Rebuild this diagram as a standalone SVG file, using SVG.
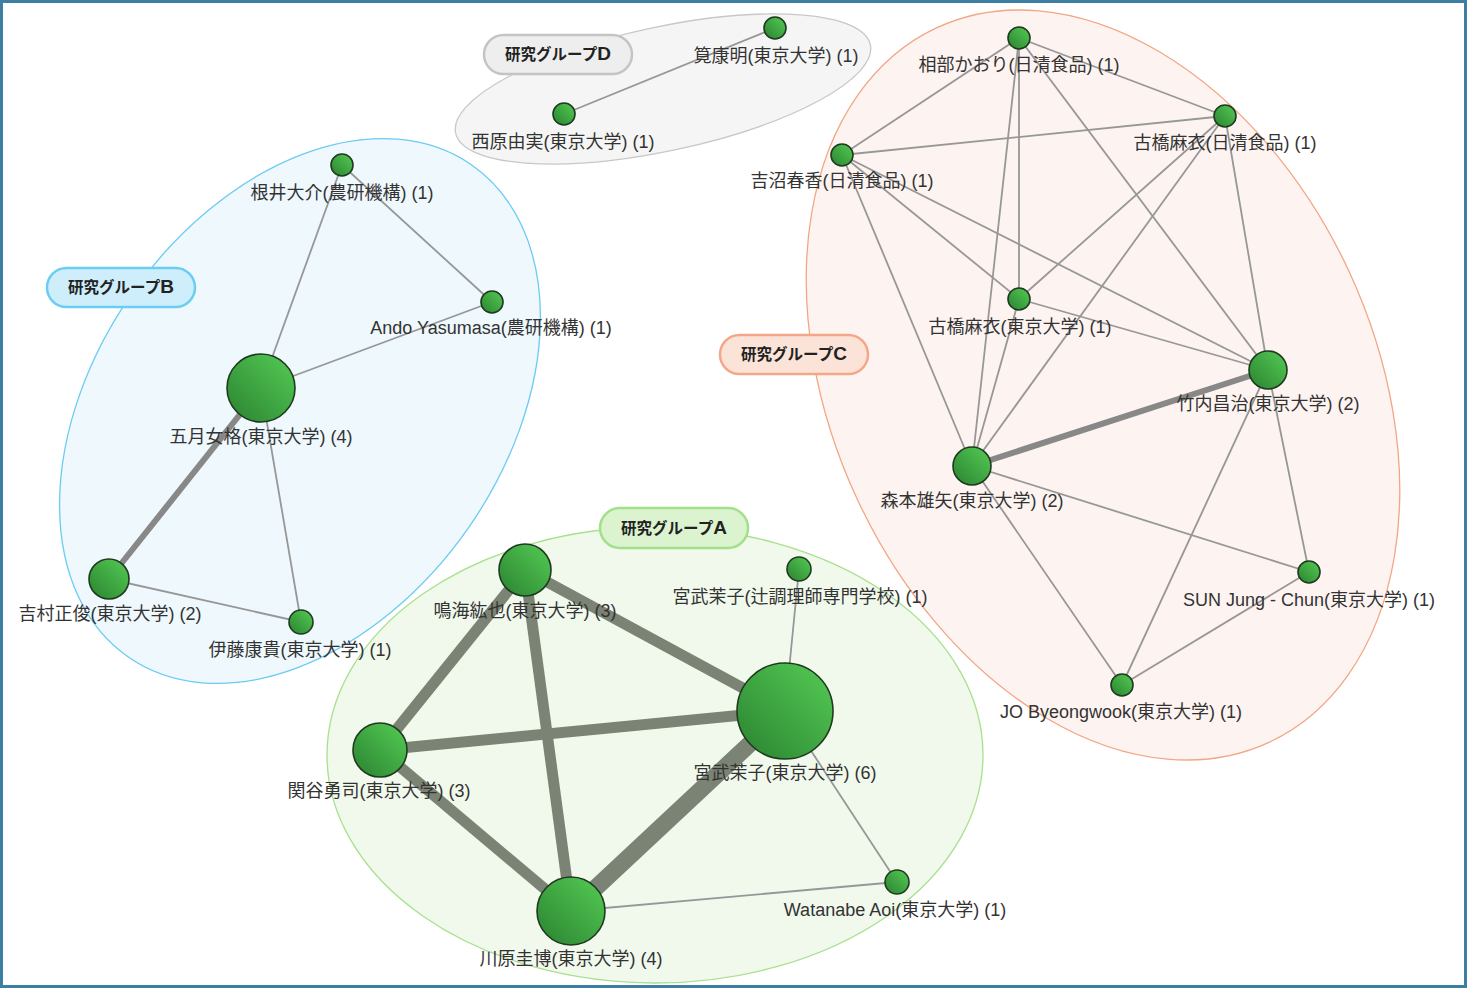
<svg xmlns="http://www.w3.org/2000/svg" width="1468" height="989" viewBox="0 0 1468 989">
<defs>
<linearGradient id="ng" x1="0" y1="1" x2="1" y2="0">
<stop offset="0" stop-color="#2a8230"/>
<stop offset="1" stop-color="#55cc55"/>
</linearGradient>
<style>
.lbl{font-family:"Liberation Sans","Noto Sans CJK JP",sans-serif;font-size:18px;fill:#333;text-anchor:middle}
.glbl{font-family:"Liberation Sans","Noto Sans CJK JP",sans-serif;font-size:15.5px;font-weight:bold;fill:#222;text-anchor:middle}
.gl{font-size:19px}
.node{fill:url(#ng);stroke:#1f3a1f;stroke-width:1.6}
.e{stroke:#979797;stroke-width:1.8;fill:none}
.et{stroke:#888888;fill:none}
.ea{stroke:#7b8374;fill:none;stroke-linecap:butt}
</style>
</defs>
<rect x="0" y="0" width="1468" height="989" fill="#ffffff"/>
<g id="clusters">
<g id="cluster-D">
<ellipse cx="663" cy="89" rx="212" ry="62" transform="rotate(-12 663 89)" fill="#f5f5f5" stroke="#c8c8c8" stroke-width="1.3"/>
</g>
<g id="cluster-B">
<ellipse cx="300" cy="411" rx="300" ry="205" transform="rotate(-55 300 411)" fill="#eef8fd" stroke="#6ccbf2" stroke-width="1.3"/>
</g>
<g id="cluster-C">
<ellipse cx="1103" cy="385" rx="394" ry="271" transform="rotate(65 1103 385)" fill="#fdf4f1" stroke="#f3a684" stroke-width="1.3"/>
</g>
<g id="cluster-A">
<ellipse cx="655" cy="755" rx="328" ry="228" fill="#f1f9ed" stroke="#a9e08e" stroke-width="1.3"/>
</g>
</g>
<g id="group-labels">
<g id="label-D"><rect x="484" y="35" width="148" height="39" rx="19.5" fill="#eeeeee" stroke="#c4c4c4" stroke-width="2.5"/><text class="glbl" x="558" y="60">研究グループ<tspan class="gl">D</tspan></text></g>
<g id="label-B"><rect x="47" y="268" width="148" height="39" rx="19.5" fill="#cfeefb" stroke="#6bcdf2" stroke-width="2.5"/><text class="glbl" x="121" y="293">研究グループ<tspan class="gl">B</tspan></text></g>
<g id="label-C"><rect x="720" y="335" width="148" height="39" rx="19.5" fill="#fce3d8" stroke="#f2a888" stroke-width="2.5"/><text class="glbl" x="794" y="360">研究グループ<tspan class="gl">C</tspan></text></g>
<g id="label-A"><rect x="600" y="508" width="148" height="40" rx="20" fill="#dbf3cf" stroke="#a3e08a" stroke-width="2.5"/><text class="glbl" x="674" y="534">研究グループ<tspan class="gl">A</tspan></text></g>
</g>
<g id="connectors">
<line class="e" x1="775" y1="28" x2="564" y2="114"/>
<line class="e" x1="1019" y1="38" x2="842" y2="155"/>
<line class="e" x1="1019" y1="38" x2="1225" y2="116"/>
<line class="e" x1="1019" y1="38" x2="1019" y2="299"/>
<line class="e" x1="1019" y1="38" x2="972" y2="466"/>
<line class="e" x1="1019" y1="38" x2="1268" y2="370"/>
<line class="e" x1="842" y1="155" x2="1225" y2="116"/>
<line class="e" x1="842" y1="155" x2="1019" y2="299"/>
<line class="e" x1="842" y1="155" x2="972" y2="466"/>
<line class="e" x1="842" y1="155" x2="1268" y2="370"/>
<line class="e" x1="1225" y1="116" x2="1019" y2="299"/>
<line class="e" x1="1225" y1="116" x2="972" y2="466"/>
<line class="e" x1="1225" y1="116" x2="1268" y2="370"/>
<line class="e" x1="1019" y1="299" x2="1268" y2="370"/>
<line class="e" x1="1019" y1="299" x2="972" y2="466"/>
<line class="et" x1="972" y1="466" x2="1268" y2="370" stroke-width="6"/>
<line class="e" x1="972" y1="466" x2="1309" y2="572"/>
<line class="e" x1="972" y1="466" x2="1122" y2="685"/>
<line class="e" x1="1268" y1="370" x2="1122" y2="685"/>
<line class="e" x1="1268" y1="370" x2="1309" y2="572"/>
<line class="e" x1="1309" y1="572" x2="1122" y2="685"/>
<line class="e" x1="342" y1="165" x2="492" y2="302"/>
<line class="e" x1="342" y1="165" x2="261" y2="388"/>
<line class="e" x1="492" y1="302" x2="261" y2="388"/>
<line class="et" x1="261" y1="388" x2="109" y2="579" stroke-width="6"/>
<line class="e" x1="261" y1="388" x2="301" y2="622"/>
<line class="e" x1="109" y1="579" x2="301" y2="622"/>
<line class="ea" x1="525" y1="570" x2="785" y2="711" stroke-width="11"/>
<line class="ea" x1="525" y1="570" x2="380" y2="750" stroke-width="11"/>
<line class="ea" x1="525" y1="570" x2="571" y2="911" stroke-width="11"/>
<line class="ea" x1="380" y1="750" x2="785" y2="711" stroke-width="11"/>
<line class="ea" x1="380" y1="750" x2="571" y2="911" stroke-width="11"/>
<line class="ea" x1="785" y1="711" x2="571" y2="911" stroke-width="17"/>
<line class="e" x1="799" y1="569" x2="785" y2="711" stroke-width="1.4"/>
<line class="e" x1="785" y1="711" x2="897" y2="882" stroke-width="1.4"/>
<line class="e" x1="571" y1="911" x2="897" y2="882" stroke-width="1.4"/>
</g>
<g id="nodes">
<g id="n-kakehi"><circle class="node" cx="775" cy="28" r="11"/><text class="lbl" x="776" y="62">筧康明(東京大学) (1)</text></g>
<g id="n-nishihara"><circle class="node" cx="564" cy="114" r="11"/><text class="lbl" x="563" y="148">西原由実(東京大学) (1)</text></g>
<g id="n-aibe"><circle class="node" cx="1019" cy="38" r="11"/><text class="lbl" x="1019" y="71">相部かおり(日清食品) (1)</text></g>
<g id="n-furuhashi-n"><circle class="node" cx="1225" cy="116" r="11"/><text class="lbl" x="1225" y="149">古橋麻衣(日清食品) (1)</text></g>
<g id="n-yoshinuma"><circle class="node" cx="842" cy="155" r="11"/><text class="lbl" x="842" y="187">吉沼春香(日清食品) (1)</text></g>
<g id="n-furuhashi-t"><circle class="node" cx="1019" cy="299" r="11"/><text class="lbl" x="1020" y="333">古橋麻衣(東京大学) (1)</text></g>
<g id="n-takeuchi"><circle class="node" cx="1268" cy="370" r="19"/><text class="lbl" x="1268" y="410">竹内昌治(東京大学) (2)</text></g>
<g id="n-morimoto"><circle class="node" cx="972" cy="466" r="19"/><text class="lbl" x="972" y="507">森本雄矢(東京大学) (2)</text></g>
<g id="n-sun"><circle class="node" cx="1309" cy="572" r="11"/><text class="lbl" x="1309" y="606">SUN Jung - Chun(東京大学) (1)</text></g>
<g id="n-jo"><circle class="node" cx="1122" cy="685" r="11"/><text class="lbl" x="1121" y="718">JO Byeongwook(東京大学) (1)</text></g>
<g id="n-nei"><circle class="node" cx="342" cy="165" r="11"/><text class="lbl" x="342" y="199">根井大介(農研機構) (1)</text></g>
<g id="n-ando"><circle class="node" cx="492" cy="302" r="11"/><text class="lbl" x="491" y="334">Ando Yasumasa(農研機構) (1)</text></g>
<g id="n-saotome"><circle class="node" cx="261" cy="388" r="34"/><text class="lbl" x="261" y="443">五月女格(東京大学) (4)</text></g>
<g id="n-yoshimura"><circle class="node" cx="109" cy="579" r="20"/><text class="lbl" x="110" y="620">吉村正俊(東京大学) (2)</text></g>
<g id="n-ito"><circle class="node" cx="301" cy="622" r="12"/><text class="lbl" x="300" y="656">伊藤康貴(東京大学) (1)</text></g>
<g id="n-narumi"><circle class="node" cx="525" cy="570" r="26"/><text class="lbl" x="525" y="617">鳴海紘也(東京大学) (3)</text></g>
<g id="n-miyatake-tsuji"><circle class="node" cx="799" cy="569" r="12"/><text class="lbl" x="800" y="603">宮武茉子(辻調理師専門学校) (1)</text></g>
<g id="n-miyatake-t"><circle class="node" cx="785" cy="711" r="48"/><text class="lbl" x="785" y="779">宮武茉子(東京大学) (6)</text></g>
<g id="n-sekiya"><circle class="node" cx="380" cy="750" r="27"/><text class="lbl" x="379" y="797">関谷勇司(東京大学) (3)</text></g>
<g id="n-kawahara"><circle class="node" cx="571" cy="911" r="34"/><text class="lbl" x="571" y="965">川原圭博(東京大学) (4)</text></g>
<g id="n-watanabe"><circle class="node" cx="897" cy="882" r="12"/><text class="lbl" x="895" y="916">Watanabe Aoi(東京大学) (1)</text></g>
</g>
<rect id="frame" x="1.5" y="1.5" width="1464" height="985" fill="none" stroke="#3d7ea3" stroke-width="3"/>
</svg>
